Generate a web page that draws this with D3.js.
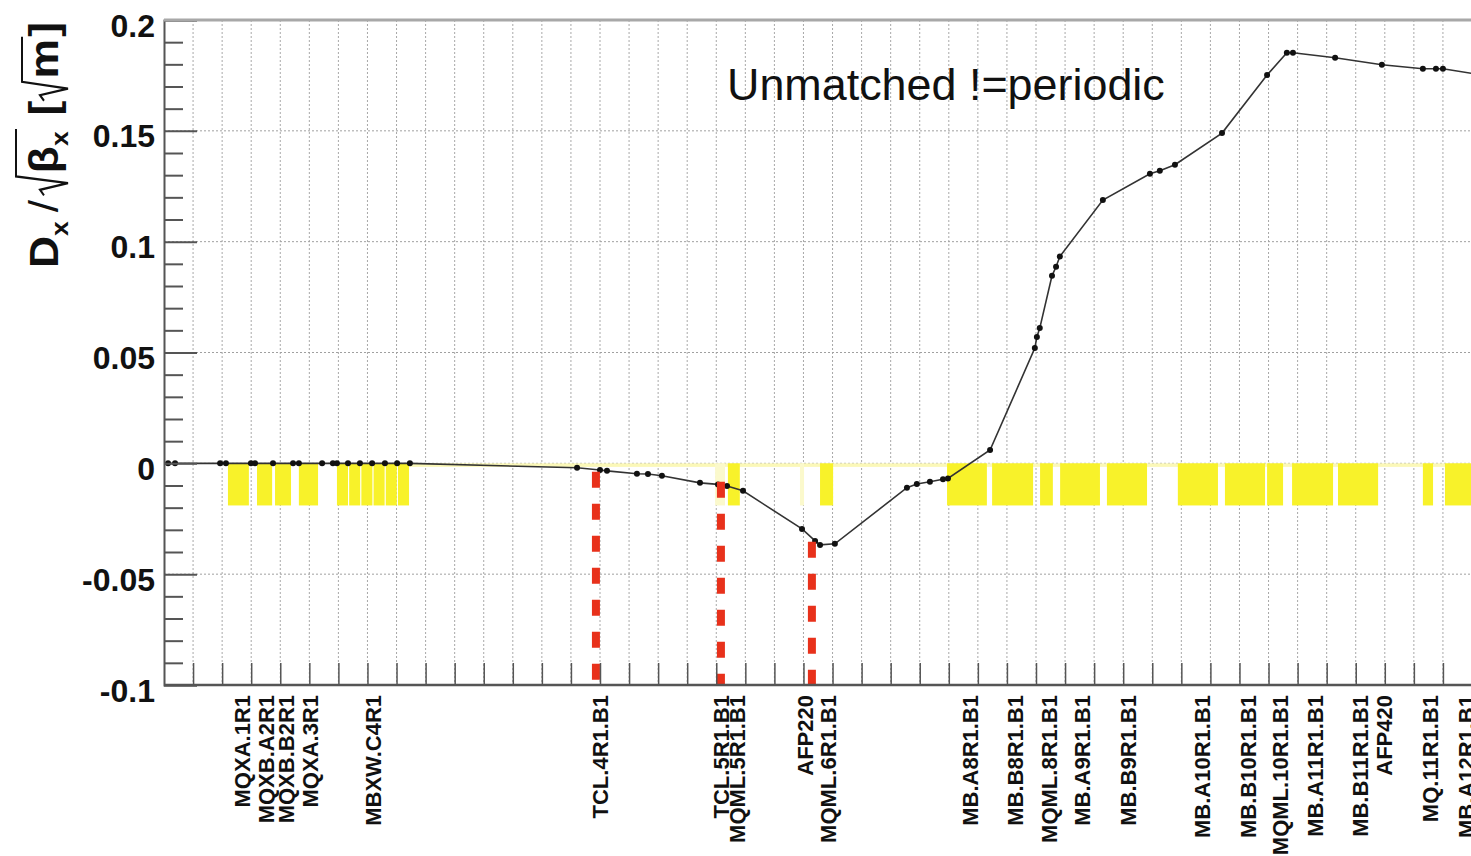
<!DOCTYPE html>
<html>
<head>
<meta charset="utf-8">
<script src="https://cdn.jsdelivr.net/npm/d3@7"></script>
<style>
body { margin: 0; background: #fff; }
text { font-family: "Liberation Sans", Arial, sans-serif; }
</style>
</head>
<body>
<div id="chart"></div>
<script>
// normalised dispersion along s [m]
const curveS = [0, 1.4, 3.8, 19.3, 21.3, 29.9, 31.3, 37.5, 44.4, 46.4, 54.4, 58.1, 59.5, 63.3, 67.4, 71.6, 76.0, 80.2, 84.6,
  142.1, 150.0, 152.4, 162.7, 166.5, 171.3, 184.4, 190.6, 193.7, 199.2, 219.5, 224.0, 225.7, 230.8,
  255.6, 259.0, 263.5, 268.0, 269.7, 284.2, 299.6, 300.3, 301.3, 305.5, 306.9, 308.2, 323.0,
  339.2, 342.6, 347.8, 364.0, 379.5, 386.3, 388.4, 402.9, 419.0, 433.1, 437.6, 440.0, 452.0];
const curveD = [0, 0, 0, 0, 0, 0, 0, 0, 0, 0, 0, 0, 0, 0, 0, 0, 0, 0, 0,
  -0.002, -0.003, -0.0034, -0.0047, -0.0048, -0.0056, -0.0088, -0.0095, -0.0102, -0.0124, -0.0296, -0.035, -0.0368, -0.0363,
  -0.011, -0.0093, -0.0083, -0.0072, -0.0068, 0.006, 0.052, 0.057, 0.061, 0.0846, 0.0887, 0.0933, 0.1188,
  0.1306, 0.132, 0.1347, 0.149, 0.1752, 0.1852, 0.1852, 0.183, 0.1798, 0.178, 0.178, 0.178, 0.1755];

// element boxes (start, end in s)
const magnetStart = [22.0, 32.0, 38.2, 46.4, 59.5, 63.7, 67.9, 72.1, 76.3, 80.5,
  194.0, 225.7, 269.4, 284.9, 301.4, 308.3, 324.4, 348.8, 365.0, 379.5, 388.1, 403.9, 433.1, 440.7];
const magnetEnd = [29.2, 37.2, 43.7, 53.0, 63.3, 67.5, 71.7, 75.9, 80.1, 84.3,
  198.1, 230.2, 283.1, 299.0, 305.8, 322.0, 338.2, 362.6, 378.8, 385.0, 402.2, 417.7, 436.6, 455.0];
const faintStart = [189.6, 218.8];
const faintEnd = [193.0, 220.2];
const driftStart = 84.6, driftEnd = 455.0;
const magnetDepth = -0.019, driftDepth = -0.0016;

const labelNames = ["MQXA.1R1", "MQXB.A2R1", "MQXB.B2R1", "MQXA.3R1", "MBXW.C4R1", "TCL.4R1.B1", "TCL.5R1.B1",
  "MQML.5R1.B1", "AFP220", "MQML.6R1.B1", "MB.A8R1.B1", "MB.B8R1.B1", "MQML.8R1.B1", "MB.A9R1.B1", "MB.B9R1.B1",
  "MB.A10R1.B1", "MB.B10R1.B1", "MQML.10R1.B1", "MB.A11R1.B1", "MB.B11R1.B1", "AFP420", "MQ.11R1.B1", "MB.A12R1.B1"];
const labelS = [26.8, 35.1, 41.9, 50.2, 71.9, 150.0, 191.6, 197.1, 220.5, 228.4, 277.3, 292.7, 304.4, 315.8, 331.6,
  357.0, 373.0, 384.0, 396.0, 411.4, 419.7, 435.5, 448.0];

// collimator markers (red dashed)
const collimatorS = [148.6, 191.6, 222.9];
const collimatorTop = [-0.0038, -0.0083, -0.0354];

const yMajor = [-0.1, -0.05, 0, 0.05, 0.1, 0.15, 0.2];
const yTickLabels = ["-0.1", "-0.05", "0", "0.05", "0.1", "0.15", "0.2"];
const yGrid = [-0.05, 0, 0.05, 0.1, 0.15];
const yMinor = d3.range(-10, 21).map(d => d / 100).filter(d => Math.round(d * 100) % 5 !== 0);
const xTicks = d3.range(10, 451, 10);

const width = 1471, height = 856;
const plotLeft = 164, plotTop = 20, plotBottom = 685;

const svg = d3.select("#chart").append("svg")
  .attr("width", width)
  .attr("height", height);

const x = d3.scaleLinear().domain([0, 450]).range([plotLeft, 1472]);
const y = d3.scaleLinear().domain([-0.1, 0.2]).range([plotBottom, plotTop]);

// grid
svg.append("g").selectAll("line").data(xTicks).enter().append("line")
  .attr("x1", d => x(d)).attr("x2", d => x(d))
  .attr("y1", plotTop).attr("y2", plotBottom)
  .attr("stroke", "#a8a8a8").attr("stroke-width", 1).attr("stroke-dasharray", "2,2");
svg.append("g").selectAll("line").data(yGrid).enter().append("line")
  .attr("x1", plotLeft).attr("x2", width)
  .attr("y1", d => y(d)).attr("y2", d => y(d))
  .attr("stroke", "#a0a0a0").attr("stroke-width", 1).attr("stroke-dasharray", "2,2");

// elements
svg.append("rect")
  .attr("x", x(driftStart)).attr("width", x(driftEnd) - x(driftStart))
  .attr("y", y(0)).attr("height", y(driftDepth) - y(0))
  .attr("fill", "#fbf8b8");
svg.append("g").selectAll("rect").data(faintStart).enter().append("rect")
  .attr("x", d => x(d)).attr("width", (d, i) => x(faintEnd[i]) - x(d))
  .attr("y", y(0)).attr("height", y(magnetDepth) - y(0))
  .attr("fill", "#fbf9cc");
svg.append("g").selectAll("rect").data(magnetStart).enter().append("rect")
  .attr("x", d => x(d)).attr("width", (d, i) => x(magnetEnd[i]) - x(d))
  .attr("y", y(0)).attr("height", y(magnetDepth) - y(0))
  .attr("fill", "#f8f22a");

// curve
const pts = curveS.map((s, i) => [s, curveD[i]]);
svg.append("path")
  .datum(pts)
  .attr("fill", "none").attr("stroke", "#333").attr("stroke-width", 1.6)
  .attr("d", d3.line().x(d => x(d[0])).y(d => y(d[1])));
svg.append("g").selectAll("circle").data(pts.slice(1, -1)).enter().append("circle")
  .attr("cx", d => x(d[0])).attr("cy", d => y(d[1])).attr("r", 3)
  .attr("fill", "#111");

// red dashed lines
svg.append("g").selectAll("line").data(collimatorS).enter().append("line")
  .attr("x1", d => x(d)).attr("x2", d => x(d))
  .attr("y1", (d, i) => y(collimatorTop[i])).attr("y2", y(-0.1))
  .attr("stroke", "#e8311b").attr("stroke-width", 8).attr("stroke-dasharray", "16,16");

// axes
const yAxis = svg.append("g").attr("transform", `translate(${plotLeft},0)`)
  .call(d3.axisLeft(y).tickValues(yMajor).tickSize(-33).tickPadding(9)
    .tickFormat((d, i) => yTickLabels[i]));
yAxis.select(".domain").attr("stroke", "#555").attr("stroke-width", 2);
yAxis.selectAll(".tick line").attr("stroke", "#555").attr("stroke-width", 2);
yAxis.selectAll(".tick text")
  .attr("font-size", 32).attr("font-weight", "bold").attr("fill", "#111")
  .attr("font-family", "Liberation Sans, Arial, sans-serif").attr("dy", "0.5em");

const yMinorAxis = svg.append("g").attr("transform", `translate(${plotLeft},0)`)
  .call(d3.axisLeft(y).tickValues(yMinor).tickSize(-19).tickFormat(""));
yMinorAxis.select(".domain").remove();
yMinorAxis.selectAll(".tick line").attr("stroke", "#555").attr("stroke-width", 2);

const xAxis = svg.append("g").attr("transform", `translate(0,${plotBottom})`)
  .call(d3.axisBottom(x).tickValues(xTicks).tickSize(-22).tickFormat(""));
xAxis.select(".domain").remove();
xAxis.selectAll(".tick line").attr("stroke", "#555").attr("stroke-width", 1.5);
svg.append("line").attr("x1", plotLeft).attr("x2", width).attr("y1", plotBottom).attr("y2", plotBottom)
  .attr("stroke", "#555").attr("stroke-width", 2.5);
svg.append("line").attr("x1", plotLeft).attr("x2", width).attr("y1", plotTop).attr("y2", plotTop)
  .attr("stroke", "#a8a8a8").attr("stroke-width", 3);

// element names
svg.append("g").selectAll("text").data(labelNames).enter().append("text")
  .attr("transform", (d, i) => `translate(${x(labelS[i])},695) rotate(-90)`)
  .attr("text-anchor", "end").attr("dy", "0.36em")
  .attr("font-size", 22).attr("font-weight", "bold").attr("fill", "#111")
  .text(d => d);

// y title: D_x / sqrt(beta_x) [sqrt(m)]
const title = svg.append("g").attr("fill", "#111").attr("font-weight", "bold");
const tg = title.append("g");
let cx = 0;
function put(t, size, shift) {
  const el = tg.append("text").attr("x", cx).attr("y", shift).attr("font-size", size).text(t);
  cx += el.node().getComputedTextLength();
  return el;
}
function radical(x0, x1, h) {
  tg.append("path")
    .attr("d", `M${x0},-14 L${x0 + 5},-18 L${x0 + 11},10 L${x0 + 17},${-h} L${x1},${-h}`)
    .attr("fill", "none").attr("stroke", "#111").attr("stroke-width", 2);
}
put("D", 40, 0);
put("x", 24, 10);
cx += 8;
put("/", 40, 0).attr("font-weight", "normal");
cx += 4;
const r1 = cx;
cx += 20;
put("β", 40, 0);
put("x", 24, 10);
radical(r1, cx + 2, 42);
cx += 14;
put("[", 40, 0);
const r2 = cx;
cx += 20;
put("m", 40, 0);
radical(r2, cx + 2, 36);
cx += 2;
put("]", 40, 0);
const titleLen = 246;
tg.attr("transform", `scale(${titleLen / cx},1)`);
title.attr("transform", "translate(58,268) rotate(-90)");

// annotation
const note = svg.append("text")
  .attr("x", 727).attr("y", 100)
  .attr("font-family", "Lato, 'Open Sans', sans-serif")
  .attr("font-size", 44).attr("fill", "#111")
  .text("Unmatched !=periodic");
const nw = note.node().getComputedTextLength();
note.attr("font-size", 44 * 438 / nw);
</script>
</body>
</html>
